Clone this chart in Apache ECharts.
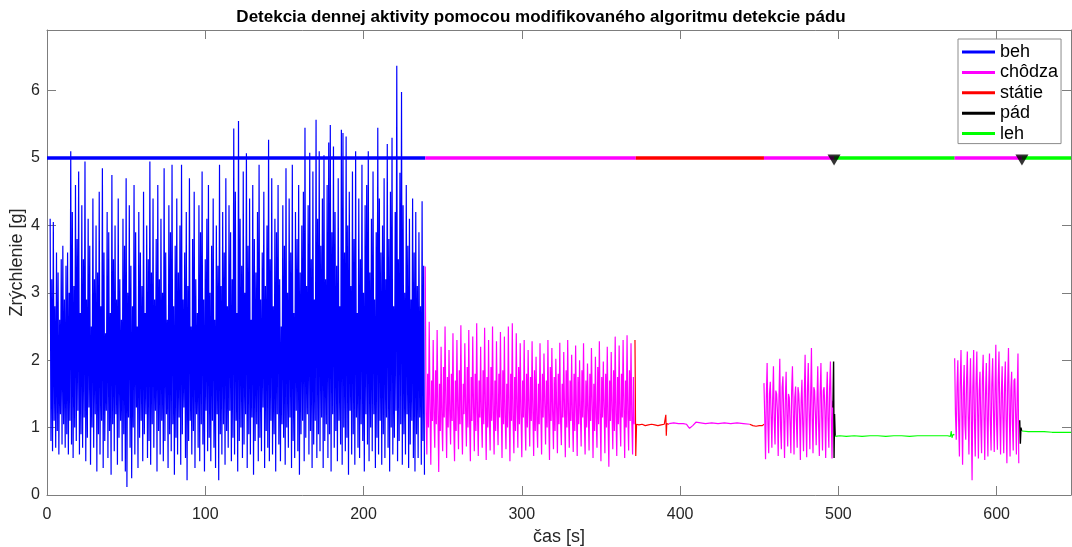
<!DOCTYPE html>
<html>
<head>
<meta charset="utf-8">
<script src="https://cdn.jsdelivr.net/npm/echarts@6/dist/echarts.min.js"></script>
<style>
  html, body { margin: 0; padding: 0; background: #ffffff; }
  #chart { width: 1072px; height: 547px; }
</style>
</head>
<body>
<div id="chart"></div>
<script>
// Activity classes shown in the legend and on the indicator line at y = 5
const stateNames = ['beh', 'chôdza', 'státie', 'pád', 'leh'];
const stateColors = ['#0000ff', '#ff00ff', '#ff0000', '#000000', '#00ff00'];
const stateLevel = 5;
// [class, start s, end s]
const stateIntervals = [
  ['beh', 0, 239], ['chôdza', 239, 372], ['státie', 372, 453], ['chôdza', 453, 497.3],
  ['leh', 497.3, 573.5], ['chôdza', 573.5, 616], ['leh', 616, 647]
];
// detected falls (time, s)
const fallTimes = [497.3, 616];

// Acceleration magnitude [g], running (sampled every 0.5 s from t = 2 s)
const behStart = 2, behStep = 0.5;
const behValues = [
  4.1,0.8, 3.2,0.65, 4.05,1.1, 2.8,0.7, 3.6,0.95, 3.3,0.6, 2.6,1.2, 3.5,0.75, 3.7,1.05, 2.9,0.7,
  3.4,0.9, 3.6,0.6, 3.0,1.1, 5.1,0.75, 4.2,0.55, 3.1,1.0, 4.6,0.8, 3.8,1.25, 4.8,0.6, 2.7,0.9,
  4.3,0.7, 3.5,1.15, 4.95,0.5, 2.9,0.85, 4.1,1.3, 3.7,0.45, 2.5,1.0, 4.4,0.7, 3.2,1.2, 4.0,0.35,
  3.3,0.9, 4.5,0.6, 2.8,1.1, 4.85,0.4, 3.6,0.8, 2.4,1.25, 4.2,0.55, 3.9,0.95, 2.7,0.3, 4.75,1.05,
  3.5,0.65, 4.0,1.2, 2.9,0.45, 4.4,0.85, 3.2,1.1, 2.6,0.5, 4.1,0.9, 3.7,0.35, 4.7,0.12, 3.0,1.15,
  4.3,0.7, 3.4,0.25, 2.8,1.0, 4.6,0.6, 3.9,1.3, 2.5,0.4, 4.2,0.85, 3.6,1.1, 3.1,0.5, 4.5,0.9,
  2.7,1.2, 4.0,0.55, 3.5,0.8, 4.95,0.45, 3.3,1.05, 4.4,0.7, 2.9,1.25, 3.8,0.35, 4.6,0.95, 3.2,0.6,
  4.1,1.1, 3.0,0.5, 4.85,0.8, 3.6,1.2, 2.6,0.4, 4.3,0.9, 3.9,0.65, 4.9,1.05, 2.8,0.3, 3.7,0.85,
  4.4,0.6, 3.3,1.15, 4.0,0.45, 4.9,0.9, 2.9,1.3, 3.6,0.55, 4.2,0.22, 3.1,0.8, 4.7,1.1, 2.5,0.6,
  3.8,0.95, 4.5,0.4, 3.2,1.2, 2.7,0.7, 4.3,0.5, 3.9,1.05, 4.8,0.75, 2.9,0.35, 3.5,1.25, 4.1,0.65,
  4.6,0.85, 3.0,0.5, 3.7,1.1, 4.4,0.7, 2.6,0.4, 4.0,1.2, 3.4,0.22, 4.9,0.9, 3.1,0.6, 4.2,1.05,
  3.6,0.45, 4.7,0.95, 2.8,0.7, 4.3,1.25, 3.9,0.5, 3.2,0.85, 5.44,0.6, 4.5,1.1, 2.7,0.35, 5.55,0.8,
  4.1,1.0, 3.4,0.55, 4.8,0.75, 3.0,1.2, 5.07,0.4, 3.7,0.9, 4.4,0.6, 2.6,1.15, 4.6,0.3, 3.8,0.8,
  3.3,1.05, 4.2,0.5, 4.9,0.85, 2.9,0.65, 3.6,1.3, 4.5,0.4, 3.1,0.95, 4.0,0.7, 5.27,0.5, 3.5,1.1,
  4.7,0.6, 2.8,0.9, 4.1,0.35, 3.9,1.2, 4.6,0.75, 3.2,0.5, 2.5,1.05, 4.3,0.85, 3.7,0.45, 4.85,1.0,
  3.0,0.7, 4.4,1.15, 3.6,0.4, 4.9,0.8, 2.7,0.55, 4.2,1.25, 3.8,0.65, 4.6,0.3, 3.3,0.9, 4.0,1.1,
  4.5,0.5, 5.45,0.85, 3.1,1.2, 4.3,0.6, 5.08,0.95, 3.5,0.4, 4.8,0.75, 2.9,1.1, 5.57,0.55, 4.1,0.9,
  5.1,0.65, 3.7,1.15, 4.4,0.4, 5.04,0.8, 3.2,1.05, 4.6,0.55, 5.23,0.9, 5.49,0.35, 3.9,1.2, 5.17,0.7,
  4.2,0.95, 3.4,0.5, 4.7,1.1, 2.8,0.75, 5.42,0.45, 5.37,1.0, 3.6,0.65, 5.32,0.85, 4.0,0.3, 4.5,1.25,
  3.1,0.6, 4.8,0.9, 3.8,0.45, 5.1,1.15, 2.7,0.7, 4.4,0.55, 3.5,1.05, 4.9,0.8, 3.0,0.35, 4.3,1.2,
  4.6,0.75, 5.1,0.5, 3.3,1.0, 4.1,0.65, 4.8,1.2, 2.9,0.4, 3.9,0.85, 5.45,0.6, 4.4,1.1, 3.6,0.45,
  4.0,0.9, 4.7,0.55, 3.2,1.15, 5.21,0.7, 3.8,0.35, 4.5,1.0, 5.3,0.6, 2.8,0.85, 4.2,1.25, 6.37,0.5,
  3.5,0.8, 4.78,1.05, 5.98,0.45, 4.3,0.9, 3.0,0.6, 4.6,1.2, 3.7,0.4, 4.1,0.75, 2.9,1.1, 4.4,0.55,
  3.6,0.35, 4.2,0.9, 3.1,0.55, 3.9,1.15, 2.8,0.45, 4.36,0.8, 3.4,0.3
];

// Walking, first bout (every 0.5 s from t = 239 s)
const chodza1Start = 239, chodza1Step = 0.5;
const chodza1Values = [
  3.39,1.2,0.6,1.8,1.0,  2.57,1.3,0.45,1.7,1.1,  2.3,1.15,0.7,1.85,1.05,  2.45,1.25,0.34,1.65,0.95,
  2.2,1.1,0.65,1.9,1.15,  2.5,1.35,0.55,1.75,1.0,  2.15,1.2,0.75,1.8,1.1,  2.4,1.05,0.5,1.7,0.95,
  2.3,1.3,0.68,1.85,1.05,  2.52,1.15,0.6,1.65,1.2,  2.25,1.25,0.72,1.9,1.0,  2.45,1.1,0.5,1.75,1.1,
  2.35,1.3,0.65,1.8,0.95,  2.55,1.2,0.58,1.7,1.15,  2.2,1.15,0.7,1.85,1.05,  2.48,1.35,0.52,1.75,1.0,
  2.3,1.1,0.66,1.9,1.1,  2.5,1.25,0.6,1.7,0.95,  2.28,1.2,0.74,1.8,1.15,  2.42,1.3,0.55,1.85,1.05,
  2.35,1.15,0.68,1.65,1.0,  2.5,1.25,0.5,1.8,1.1,  2.55,1.1,0.62,1.75,0.95,  2.4,1.3,0.7,1.9,1.05,
  2.25,1.2,0.56,1.7,1.15,  2.3,1.15,0.66,1.8,1.0,  2.15,1.3,0.72,1.75,1.1,  2.28,1.2,0.58,1.85,0.95,
  2.05,1.1,0.7,1.65,1.05,  2.25,1.25,0.6,1.8,1.15,  2.1,1.35,0.75,1.7,1.0,  2.3,1.15,0.52,1.9,1.1,
  2.18,1.2,0.68,1.75,0.95,  2.02,1.3,0.62,1.8,1.05,  2.26,1.1,0.74,1.65,1.15,  2.12,1.25,0.56,1.85,1.0,
  2.3,1.2,0.7,1.7,1.1,  2.08,1.15,0.64,1.8,0.95,  2.22,1.3,0.58,1.75,1.05,  2.0,1.2,0.72,1.85,1.15,
  2.25,1.1,0.6,1.7,1.0,  1.95,1.25,0.66,1.8,1.1,  2.18,1.35,0.55,1.65,0.95,  2.05,1.15,0.7,1.9,1.05,
  2.28,1.2,0.5,1.75,1.15,  1.98,1.3,0.62,1.8,1.0,  2.2,1.1,0.42,1.7,1.1,  2.12,1.25,0.68,1.85,0.95,
  2.35,1.2,0.58,1.75,1.05,  2.22,1.15,0.72,1.8,1.15,  2.3,1.3,0.55,1.7,1.0,  2.37,1.2,0.66,1.85,1.1,
  2.25,1.1,0.6,1.75,1.05
];

// Standing, then a short quiet stretch classified as walking, then standing again
const statie1Times  = [371.5, 372, 372.5, 374, 376, 378, 380, 382, 384, 386, 388, 390, 390.7, 391, 391.3, 391.6, 392, 393];
const statie1Values = [2.3, 0.58, 1.05, 1.04, 1.05, 1.03, 1.04, 1.05, 1.04, 1.03, 1.04, 1.05, 1.04, 1.19, 0.88, 1.06, 1.04, 1.05];
const chodza2Times  = [393, 396, 399, 402, 404, 405, 406, 407, 408, 409, 410, 411, 413, 416, 420, 424, 428, 432, 436, 440, 444];
const chodza2Values = [1.06, 1.07, 1.06, 1.06, 1.05, 1.02, 0.99, 1.01, 1.03, 1.05, 1.08, 1.06, 1.07, 1.06, 1.07, 1.06, 1.07, 1.06, 1.07, 1.06, 1.05];
const statie2Times  = [444, 446, 448, 450, 452, 453];
const statie2Values = [1.05, 1.03, 1.02, 1.03, 1.03, 1.05];

// Walking, second bout (every 0.5 s from t = 453 s)
const chodza3Start = 453, chodza3Step = 0.5;
const chodza3Values = [
  1.66,1.15,0.53,1.45,  1.96,1.05,0.62,1.5,  1.68,1.2,0.7,1.4,  1.91,1.1,0.75,1.55,
  1.5,1.25,0.58,1.45,  2.02,1.0,0.68,1.6,  1.76,1.15,0.55,1.4,  1.83,1.2,0.72,1.5,
  1.45,1.05,0.62,1.55,  1.91,1.25,0.6,1.45,  1.61,1.1,0.7,1.6,  1.5,1.2,0.52,1.4,
  1.71,1.05,0.65,1.5,  2.08,1.15,0.56,1.55,  1.96,1.25,0.68,1.45,  2.18,1.1,0.62,1.6,
  1.55,1.2,0.74,1.4,  1.91,1.05,0.58,1.5,  1.96,1.15,0.66,1.55,  1.6,1.25,0.55,1.45,
  1.83,1.1,0.7,1.6,  1.98,1.2,0.54,1.4
];

// First fall
const pad1Times  = [496.6, 497.0, 497.3, 497.6, 498.0];
const pad1Values = [1.3, 1.98, 0.55, 1.2, 0.88];

// Lying
const leh1Times  = [498, 501, 505, 510, 515, 520, 525, 530, 535, 540, 545, 550, 555, 560, 565, 569, 570.8, 571.3, 571.8, 572.5, 573.3];
const leh1Values = [0.87, 0.88, 0.87, 0.88, 0.87, 0.88, 0.88, 0.87, 0.88, 0.88, 0.87, 0.88, 0.88, 0.88, 0.88, 0.88, 0.87, 0.95, 0.85, 0.9, 0.89];

// Walking, third bout (every 0.5 s from t = 573.5 s)
const chodza4Start = 573.5, chodza4Step = 0.5;
const chodza4Values = [
  2.03,1.2,0.82,1.6,  2.0,1.1,0.57,1.65,  2.15,1.25,0.45,1.55,  1.93,1.05,0.82,1.7,
  2.13,1.2,0.6,1.5,  2.03,1.15,0.22,1.6,  2.15,1.1,0.57,1.65,  2.13,1.25,0.54,1.55,
  1.83,1.05,0.62,1.7,  2.08,1.2,0.52,1.5,  1.96,1.15,0.57,1.6,  2.1,1.1,0.66,1.65,
  2.03,1.25,0.64,1.55,  2.23,1.05,0.67,1.7,  2.13,1.2,0.6,1.5,  1.91,1.15,0.62,1.6,
  1.98,1.1,0.47,1.65,  2.18,1.25,0.57,1.55,  1.83,1.05,0.66,1.7,  1.73,1.2,0.6,1.5,
  2.1,0.47
];

// Second fall
const pad2Times  = [614.6, 615.0, 615.4, 615.8];
const pad2Values = [1.11, 0.76, 1.0, 0.95];

// Lying again
const leh2Times  = [616, 617, 620, 625, 630, 635, 640, 645, 647];
const leh2Values = [0.95, 0.95, 0.94, 0.94, 0.94, 0.93, 0.93, 0.93, 0.93];

// Axis settings
const xMin = 0, xMax = 647, xInterval = 100;
const yMin = 0, yMax = 6.9, yInterval = 1;

const FONT = '"Liberation Sans", Arial, Helvetica, sans-serif';
const AXIS_GREY = '#7d7d7d';
const TEXT_GREY = '#262626';

// stroke width of the raw signal per class (dense bursts need a heavier stroke)
const signalWidth = { 'beh': 1.2, 'chôdza': 1.2, 'státie': 1.2, 'pád': 1.4, 'leh': 1.1 };

function colorOf(name) { return stateColors[stateNames.indexOf(name)]; }

function sampled(start, step, values) {
  return values.map((v, i) => [start + i * step, v]);
}
function paired(times, values) {
  return times.map((t, i) => [t, values[i]]);
}

const signalParts = [
  ['beh', sampled(behStart, behStep, behValues)],
  ['chôdza', sampled(chodza1Start, chodza1Step, chodza1Values)],
  ['státie', paired(statie1Times, statie1Values)],
  ['chôdza', paired(chodza2Times, chodza2Values)],
  ['státie', paired(statie2Times, statie2Values)],
  ['chôdza', sampled(chodza3Start, chodza3Step, chodza3Values)],
  ['leh', paired(leh1Times, leh1Values)],
  ['pád', paired(pad1Times, pad1Values)],
  ['chôdza', sampled(chodza4Start, chodza4Step, chodza4Values)],
  ['leh', paired(leh2Times, leh2Values)],
  ['pád', paired(pad2Times, pad2Values)]
];

const series = [];

signalParts.forEach(([name, data]) => {
  series.push({
    type: 'line', name: name, data: data,
    xAxisIndex: 0, yAxisIndex: 0,
    showSymbol: false, symbol: 'none', smooth: false, z: 2,
    color: colorOf(name),
    lineStyle: { width: signalWidth[name], color: colorOf(name) },
    emphasis: { disabled: true }, silent: true
  });
});

// Classification indicator drawn at y = 5
stateIntervals.forEach(([name, a, b]) => {
  series.push({
    type: 'line', name: name, data: [[a, stateLevel], [b, stateLevel]],
    showSymbol: false, symbol: 'none', z: 4,
    color: colorOf(name),
    lineStyle: { width: 3.6, color: colorOf(name) },
    emphasis: { disabled: true }, silent: true
  });
});

// Fall markers
series.push({
  type: 'scatter', name: 'pád',
  data: fallTimes.map(t => [t, stateLevel]),
  symbol: 'triangle', symbolRotate: 180, symbolSize: [13, 11], symbolOffset: [0, 2],
  color: '#000000', itemStyle: { color: '#000000' }, z: 6, silent: true
});

function axisCommon(extra) {
  return Object.assign({
    type: 'value',
    axisLine: { show: true, onZero: false, lineStyle: { color: AXIS_GREY, width: 1 } },
    axisTick: { show: true, inside: true, length: 9, lineStyle: { color: AXIS_GREY, width: 1 } },
    splitLine: { show: false }
  }, extra);
}

const option = {
  animation: false,
  backgroundColor: '#ffffff',
  grid: { left: 47, right: 1, top: 30, bottom: 52, containLabel: false, outerBoundsMode: 'none' },
  graphic: [{
    type: 'text', x: 541, y: 17,
    style: {
      text: 'Detekcia dennej aktivity pomocou modifikovaného algoritmu detekcie pádu',
      font: 'bold 17px ' + FONT, fill: '#000000',
      textAlign: 'center', textVerticalAlign: 'middle'
    }
  }],
  legend: {
    data: stateNames,
    orient: 'vertical',
    left: 958, top: 39,
    icon: 'rect', itemWidth: 33, itemHeight: 3, itemGap: 2.4,
    padding: [4, 3, 1, 4],
    backgroundColor: '#ffffff', borderColor: '#8c8c8c', borderWidth: 1, borderRadius: 0,
    selectedMode: false,
    textStyle: { fontSize: 18, lineHeight: 18, color: '#000000', fontFamily: FONT }
  },
  xAxis: [
    axisCommon({
      position: 'bottom', min: xMin, max: xMax, interval: xInterval,
      axisLabel: {
        fontSize: 16, color: TEXT_GREY, fontFamily: FONT, margin: 12,
        showMaxLabel: false,
        formatter: v => (v % xInterval === 0 ? String(v) : '')
      },
      name: 'čas [s]', nameLocation: 'middle', nameGap: 30,
      nameTextStyle: { fontSize: 18, color: TEXT_GREY, fontFamily: FONT }
    }),
    axisCommon({
      position: 'top', min: xMin, max: xMax, interval: xInterval,
      axisLabel: { show: false }
    })
  ],
  yAxis: [
    axisCommon({
      position: 'left', min: yMin, max: yMax, interval: yInterval,
      axisLabel: {
        fontSize: 16, color: TEXT_GREY, fontFamily: FONT, margin: 7,
        showMaxLabel: false,
        formatter: v => (Math.abs(v - Math.round(v)) < 1e-9 ? String(Math.round(v)) : '')
      },
      name: 'Zrýchlenie [g]', nameLocation: 'middle', nameGap: 21, nameRotate: 90,
      nameMoveOverlap: false,
      nameTextStyle: { fontSize: 18, color: TEXT_GREY, fontFamily: FONT }
    }),
    axisCommon({
      position: 'right', min: yMin, max: yMax, interval: yInterval,
      axisLabel: { show: false }
    })
  ],
  series: series
};

const chart = echarts.init(document.getElementById('chart'), null, { renderer: 'canvas' });
chart.setOption(option);
</script>
</body>
</html>
